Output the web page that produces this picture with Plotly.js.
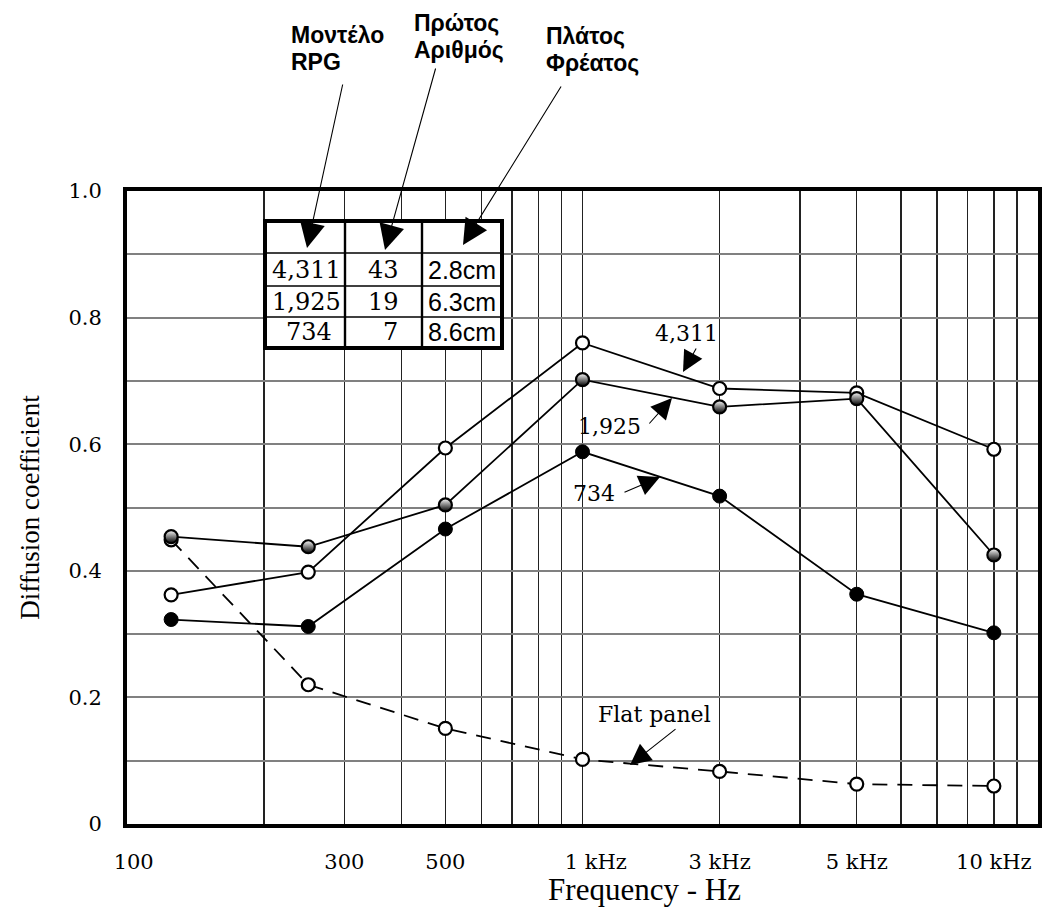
<!DOCTYPE html>
<html>
<head>
<meta charset="utf-8">
<script src="https://cdn.plot.ly/plotly-3.0.1.min.js"></script>
<style>
html,body{margin:0;padding:0;background:#fff;}
#chart{width:1046px;height:907px;}
</style>
</head>
<body>
<div id="chart"></div>
<script>
// ---- data ----
const freqs = [125, 250, 500, 1000, 2000, 4000, 8000];
const rpg4311 = [0.362, 0.398, 0.594, 0.760, 0.688, 0.681, 0.592];
const rpg1925 = [0.454, 0.438, 0.504, 0.702, 0.659, 0.672, 0.425];
const rpg734  = [0.323, 0.312, 0.466, 0.588, 0.518, 0.363, 0.302];
const flatPanel = [0.449, 0.220, 0.151, 0.102, 0.083, 0.063, 0.060];

const NB = '\u00A0';
const xGridVals = [100,200,300,400,500,600,700,800,900,1000,2000,3000,4000,5000,6000,7000,8000,9000,10000];
const xGridText = [NB+NB+'100','','300','','500','','','','',NB+NB+NB+NB+'1 kHz','3 kHz','','5 kHz','','','','10 kHz','',''];
const yGridVals = [0,0.1,0.2,0.3,0.4,0.5,0.6,0.7,0.8,0.9,1.0];
const yGridText = ['0','','0.2','','0.4','','0.6','','0.8','','1.0'];

const tableModels = ['4,311','1,925','734'];
const tablePrimes = ['43','19','7'];
const tableWidths = ['2.8cm','6.3cm','8.6cm'];
const headerLabels = [['Μοντέλο','RPG'],['Πρώτος','Αριθμός'],['Πλάτος','Φρέατος']];
const seriesLabels = ['4,311','1,925','734','Flat panel'];

// ---- layout helpers (pixel -> paper) ----
const L = 127, R = 1038, T = 191, B = 824;
const px = x => (x - L) / (R - L);
const py = y => (B - y) / (B - T);

const serif = 'DejaVu Serif, serif';
const tserif = 'Liberation Serif, Times New Roman, serif';
const sans = 'Liberation Sans, Arial, sans-serif';

const lineStyle = {color:'#000', width:1.8};
const traces = [
  {x:freqs, y:flatPanel, mode:'lines+markers', name:'Flat panel',
   line:{color:'#000', width:1.8, dash:'15px,10px'},
   marker:{symbol:'circle', size:13, color:'#fff', line:{color:'#000', width:2.2}}},
  {x:freqs, y:rpg734, mode:'lines+markers', name:'734',
   line:lineStyle, marker:{symbol:'circle', size:14, color:'#000', line:{color:'#000', width:1}}},
  {x:freqs, y:rpg4311, mode:'lines+markers', name:'4,311',
   line:lineStyle, marker:{symbol:'circle', size:13, color:'#fff', line:{color:'#000', width:2.2}}},
  {x:freqs, y:rpg1925, mode:'lines+markers', name:'1,925',
   line:lineStyle, marker:{symbol:'circle', size:13, color:'#fff',
     gradient:{type:'vertical', color:'#000'}, line:{color:'#000', width:2.2}}}
];

// ---- table (shapes + annotations) ----
const tL = 265, tR = 502, tT = 221, tB = 348;
const colX = [tL, 345, 422, tR];
const rowY = [tT, 253, 286, 317, tB];
const shapes = [
  {type:'rect', xref:'paper', yref:'paper', x0:px(tL), x1:px(tR), y0:py(tB), y1:py(tT),
   fillcolor:'#fff', line:{color:'#000', width:4}, layer:'above'}
];
[1,2].forEach(i => shapes.push({type:'line', xref:'paper', yref:'paper',
  x0:px(colX[i]), x1:px(colX[i]), y0:py(tB), y1:py(tT), line:{color:'#000', width:2.4}, layer:'above'}));
[1,2,3].forEach(i => shapes.push({type:'line', xref:'paper', yref:'paper',
  x0:px(tL), x1:px(tR), y0:py(rowY[i]), y1:py(rowY[i]), line:{color:'#000', width:1.6}, layer:'above'}));

const annotations = [];
const txt = (t, x, y, font, extra) => Object.assign({xref:'paper', yref:'paper', x:px(x), y:py(y),
  xanchor:'center', yanchor:'middle', text:t, showarrow:false, font:font}, extra || {});
const cellY = [270, 301.5, 331.5];
tableModels.forEach((t,i) => annotations.push(txt(t, i===2?309:306, cellY[i], {family:serif, size:24, color:'#000'})));
tablePrimes.forEach((t,i) => annotations.push(txt(t, i===2?390:383, cellY[i], {family:serif, size:24, color:'#000'})));
tableWidths.forEach((t,i) => annotations.push(txt(t, 462, cellY[i], {family:sans, size:25, color:'#000'})));

// header labels above the plot (two lines each)
const headerPos = [[290,35],[413,23],[545,36]];
headerLabels.forEach((lines,i) => lines.forEach((t,j) => annotations.push(
  txt('<b>'+t+'</b>', headerPos[i][0], headerPos[i][1] + j*27, {family:sans, size:23, color:'#000'},
      {xanchor:'left', borderpad:0}))));

// arrows from header labels into the table
const headerArrows = [[[343,83],[307,248]],[[436,67],[385,250]],[[562,85],[463,245]]];
headerArrows.forEach(a => annotations.push({xref:'paper', yref:'paper',
  x:px(a[1][0]), y:py(a[1][1]), ax:a[0][0]-a[1][0], ay:a[0][1]-a[1][1],
  text:'', showarrow:true, arrowhead:2, arrowsize:4.6, arrowwidth:1.1, arrowcolor:'#000'}));

// series labels
const labelPos = [[686,333],[609,426],[594,493],[654,714]];
seriesLabels.forEach((t,i) => annotations.push(txt(t, labelPos[i][0], labelPos[i][1], {family:serif, size:22, color:'#000'})));
const labelArrows = [[[697,347],[683,372]],[[648,425],[672,398]],[[623,493],[660,477]],[[677,728],[630,765]]];
labelArrows.forEach(a => annotations.push({xref:'paper', yref:'paper',
  x:px(a[1][0]), y:py(a[1][1]), ax:a[0][0]-a[1][0], ay:a[0][1]-a[1][1],
  text:'', showarrow:true, arrowhead:2, arrowsize:3.8, arrowwidth:1.1, arrowcolor:'#000'}));

const layout = {
  width:1046, height:907,
  margin:{l:L, r:1046-R, t:T, b:907-B},
  paper_bgcolor:'#fff', plot_bgcolor:'#fff',
  showlegend:false,
  xaxis:{type:'log', range:[2,4], tickmode:'array', tickvals:xGridVals, ticktext:xGridText,
    showgrid:true, gridcolor:'#222', gridwidth:1.4, zeroline:false,
    showline:true, mirror:true, linecolor:'#000', linewidth:4,
    ticks:'outside', ticklen:16, tickcolor:'rgba(0,0,0,0)',
    tickfont:{family:serif, size:21, color:'#000'},
    title:{text:'\u200B'+NB.repeat(16)+'Frequency - Hz', font:{family:tserif, size:31, color:'#000'}, standoff:4}},
  yaxis:{range:[0,1], tickmode:'array', tickvals:yGridVals, ticktext:yGridText,
    showgrid:true, gridcolor:'#808080', gridwidth:2, zeroline:false,
    showline:true, mirror:true, linecolor:'#000', linewidth:4,
    ticks:'outside', ticklen:17, tickcolor:'rgba(0,0,0,0)',
    tickfont:{family:serif, size:21, color:'#000'},
    title:{text:'Diffusion coefficient', font:{family:tserif, size:27, color:'#000'}, standoff:22}},
  shapes:shapes,
  annotations:annotations
};

Plotly.newPlot('chart', traces, layout, {displayModeBar:false, staticPlot:true});
</script>
</body>
</html>
